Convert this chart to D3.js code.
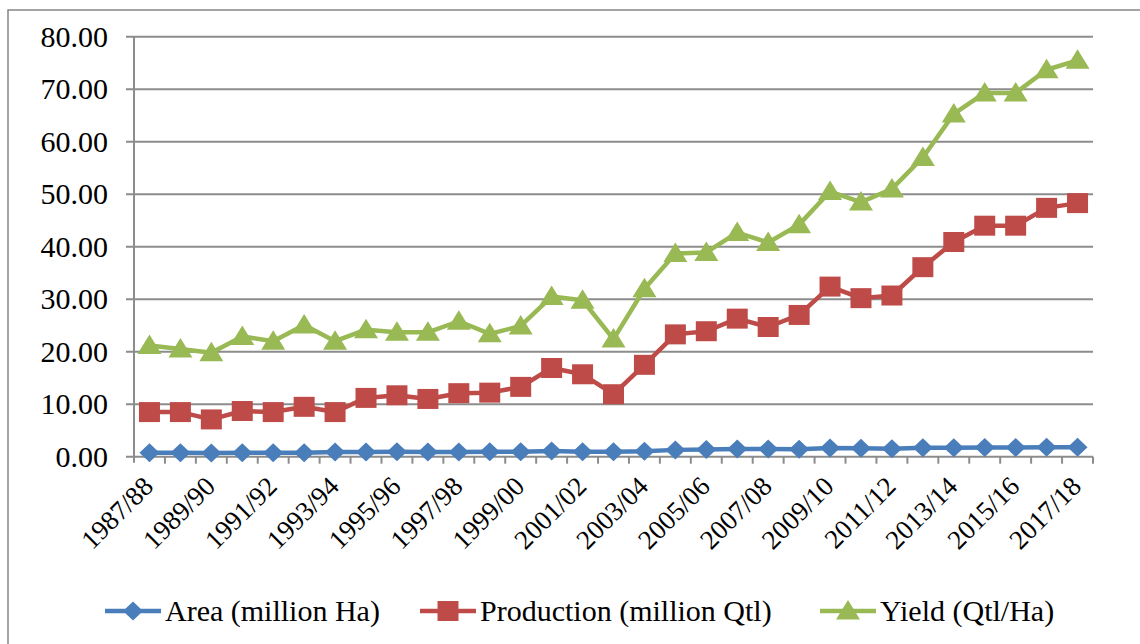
<!DOCTYPE html>
<html>
<head>
<meta charset="utf-8">
<script src="https://cdn.jsdelivr.net/npm/d3@7"></script>
<style>
  body { margin: 0; background: #fff; }
  text { font-family: "Liberation Serif", "Times New Roman", serif; fill: #000; }
</style>
</head>
<body>
<div class="chart"></div>
<script>
// season labels on the x axis
var seasons = ["1987/88","1988/89","1989/90","1990/91","1991/92","1992/93","1993/94","1994/95",
  "1995/96","1996/97","1997/98","1998/99","1999/00","2000/01","2001/02","2002/03","2003/04",
  "2004/05","2005/06","2006/07","2007/08","2008/09","2009/10","2010/11","2011/12","2012/13",
  "2013/14","2014/15","2015/16","2016/17","2017/18"];

var area = [0.75,0.75,0.7,0.75,0.75,0.75,0.9,0.9,0.95,0.9,0.9,0.95,0.95,1.1,0.95,0.95,1.05,
  1.3,1.35,1.45,1.45,1.4,1.65,1.6,1.5,1.7,1.7,1.75,1.75,1.8,1.8];
var production = [8.5,8.5,7.1,8.7,8.5,9.5,8.5,11.2,11.7,11.0,12.1,12.2,13.3,16.9,15.7,11.9,
  17.5,23.3,23.9,26.3,24.7,27.0,32.4,30.2,30.7,36.1,40.9,44.0,44.0,47.4,48.3];
var yieldQ = [21.2,20.5,19.8,22.9,22.0,25.1,22.0,24.2,23.7,23.7,25.8,23.4,24.9,30.5,29.8,
  22.4,32.0,38.7,38.9,42.7,40.8,44.2,50.5,48.5,51.0,57.0,65.3,69.3,69.3,73.7,75.5];

var yTicks = [0,10,20,30,40,50,60,70,80];

var series = [
  {name: "Area (million Ha)", values: area, color: "#4A7EBB", shape: "diamond"},
  {name: "Production (million Qtl)", values: production, color: "#BE4B48", shape: "square"},
  {name: "Yield (Qtl/Ha)", values: yieldQ, color: "#98B954", shape: "triangle"}
];

var w = 1140, h = 644;
var plotLeft = 134, plotRight = 1093, plotTop = 36.7, plotBottom = 456.7;

var svg = d3.select(".chart").append("svg")
  .attr("width", w).attr("height", h);

// outer frame (runs off the right and bottom edge)
svg.append("rect")
  .attr("x", 8).attr("y", 10)
  .attr("width", 1160).attr("height", 700)
  .attr("fill", "none").attr("stroke", "#868686").attr("stroke-width", 1.5);

var x = d3.scaleBand().domain(seasons).range([plotLeft, plotRight]);
var y = d3.scaleLinear().domain([0, 80]).range([plotBottom, plotTop]);

// gridlines
svg.append("g").selectAll("line")
  .data(yTicks)
  .enter().append("line")
  .attr("x1", plotLeft - 8).attr("x2", plotRight)
  .attr("y1", d => y(d)).attr("y2", d => y(d))
  .attr("stroke", "#8c8c8c").attr("stroke-width", 2);

// y axis line
svg.append("line")
  .attr("x1", plotLeft).attr("x2", plotLeft)
  .attr("y1", plotTop).attr("y2", plotBottom + 6)
  .attr("stroke", "#8c8c8c").attr("stroke-width", 2);

// x ticks between categories
var bounds = seasons.map(d => x(d)).concat([plotRight]);
svg.append("g").selectAll("line")
  .data(bounds.slice(1))
  .enter().append("line")
  .attr("x1", d => d).attr("x2", d => d)
  .attr("y1", plotBottom).attr("y2", plotBottom + 7)
  .attr("stroke", "#8c8c8c").attr("stroke-width", 2);

// y labels
svg.append("g").selectAll("text")
  .data(yTicks)
  .enter().append("text")
  .attr("x", 108).attr("y", d => y(d))
  .attr("dy", "0.33em")
  .attr("text-anchor", "end")
  .style("font-size", "30px")
  .text(d => d3.format(".2f")(d));

// x labels, every second season, rotated
svg.append("g").selectAll("text")
  .data(seasons.filter((d, i) => i % 2 == 0))
  .enter().append("text")
  .attr("transform", d => `translate(${x(d) + x.bandwidth() / 2 - 8},${plotBottom + 18}) rotate(-45)`)
  .attr("text-anchor", "end")
  .attr("dy", "0.7em")
  .style("font-size", "27px")
  .text(d => d);

var cx = (d, i) => x(seasons[i]) + x.bandwidth() / 2;
var line = d3.line().x((d, i) => cx(d, i)).y(d => y(d));

function marker(shape) {
  if (shape == "diamond") return "M0,-9.5L10,0L0,9.5L-10,0Z";
  if (shape == "square") return "M-10.5,-10H10.5V10H-10.5Z";
  return "M0,-11L12,8.5H-12Z";
}

series.forEach(function(s) {
  var g = svg.append("g");
  g.append("path")
    .attr("d", line(s.values))
    .attr("fill", "none")
    .attr("stroke", s.color)
    .attr("stroke-width", 4.5)
    .attr("stroke-linejoin", "round");
  g.selectAll("path.m")
    .data(s.values)
    .enter().append("path")
    .attr("class", "m")
    .attr("transform", (d, i) => `translate(${cx(d, i)},${y(d)})`)
    .attr("d", marker(s.shape))
    .attr("fill", s.color);
});

// legend
var legendX = [105, 420, 820];
var lg = svg.append("g").selectAll("g")
  .data(series)
  .enter().append("g")
  .attr("transform", (d, i) => `translate(${legendX[i]},611)`);
lg.append("line")
  .attr("x1", 0).attr("x2", 56)
  .attr("stroke", d => d.color).attr("stroke-width", 4.5);
lg.append("path")
  .attr("transform", "translate(28,0)")
  .attr("d", d => marker(d.shape))
  .attr("fill", d => d.color);
lg.append("text")
  .attr("x", 60).attr("dy", "0.33em")
  .style("font-size", "30px")
  .text(d => d.name);
</script>
</body>
</html>
